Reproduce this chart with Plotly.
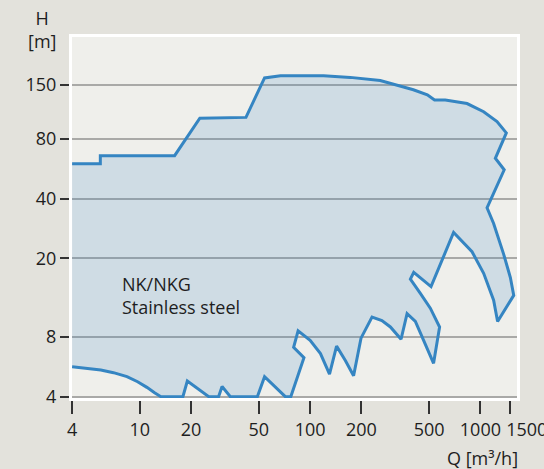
import plotly.graph_objects as go

# Operating range outline (Q in m3/h, H in m), clockwise from top-left
Q = [4, 5.86, 5.86, 16, 22.5, 42, 54, 67, 120, 172, 258, 404, 488, 538, 622, 835,
     1045, 1252, 1420, 1224, 1380, 1094, 1196, 1369, 1500, 1570, 1262, 1196, 1045,
     893, 696, 513, 406, 388, 444, 508, 576, 531, 464, 415, 371, 342, 296, 264, 231,
     199, 180, 161, 143, 130, 115, 100, 85, 80, 92, 77, 71.5, 54, 49, 34, 30.4, 29,
     25.4, 19, 17.9, 13.3, 12.2, 11, 9.7, 8.4, 7.0, 5.9, 4]
H = [60, 60, 66, 66, 102, 103, 163, 167, 167, 164, 158, 142, 134, 126, 126, 121,
     110, 98, 86, 64, 56, 36, 30, 21, 16, 13, 9.6, 12.3, 16.8,
     21.6, 27, 14.4, 17, 15.7, 13.3, 11.2, 9, 5.9, 7.7, 9.6, 10.5, 7.8, 9.0, 9.7, 10.1,
     7.9, 5.1, 6.1, 7.2, 5.2, 6.6, 7.7, 8.6, 7.1, 6.3, 4, 4, 5.05, 4, 4, 4.5, 4,
     4, 4.8, 4, 4, 4.19, 4.46, 4.76, 5.05, 5.29, 5.46, 5.67]

x_ticks = [4, 10, 20, 50, 100, 200, 500, 1000, 1500]
x_ticktext = ["4", "10", "20", "50", "100", "200", "500", "1000",
              "\u00a0" * 7 + "1500"]
y_ticks = [4, 8, 20, 40, 80, 150]
label_text = "NK/NKG<br>Stainless steel"

LINE = "#3585c2"
FONT = "Open Sans"
TXT = "#1e1e1e"

fig = go.Figure()
fig.add_trace(go.Scatter(x=Q, y=H, mode="lines", fill="toself",
                         fillcolor="rgba(53,133,194,0.17)",
                         line=dict(width=0), hoverinfo="skip", showlegend=False))
fig.add_trace(go.Scatter(x=Q, y=H, mode="lines",
                         line=dict(color=LINE, width=3), hoverinfo="skip",
                         showlegend=False))

fig.update_layout(
    width=544, height=469,
    margin=dict(l=72, r=27, t=37, b=71, autoexpand=False),
    paper_bgcolor="#e3e2dc",
    plot_bgcolor="#efefeb",
    font=dict(family=FONT, size=18, color=TXT),
    xaxis=dict(type="log", range=[0.6015, 3.2150], automargin=False,
               tickvals=x_ticks, ticktext=x_ticktext, tickangle=0,
               ticklabeloverflow="allow",
               showgrid=False, zeroline=False,
               showline=True, linecolor="white", linewidth=3, mirror=True,
               ticks="outside", ticklen=13, tickwidth=1.5, tickcolor="#333",
               tickfont=dict(family=FONT, size=18, color=TXT)),
    yaxis=dict(type="log", range=[0.5955, 2.4188], automargin=False,
               tickvals=y_ticks, ticktext=[str(v) for v in y_ticks],
               showgrid=True, gridcolor="#a9a9a7", gridwidth=1.5, zeroline=False,
               showline=True, linecolor="white", linewidth=3, mirror=True,
               ticks="outside", ticklen=9, tickwidth=1.5, tickcolor="#333",
               tickfont=dict(family=FONT, size=18, color=TXT)),
    annotations=[
        dict(text=label_text, xref="paper", yref="paper", x=0.108, y=0.285,
             xanchor="left", yanchor="middle", align="left", showarrow=False,
             font=dict(family=FONT, size=18, color=TXT)),
        dict(text="Q [m³/h]", xref="paper", yref="paper", x=1, y=0,
             xanchor="right", yanchor="top", xshift=3, yshift=-46,
             showarrow=False, font=dict(family=FONT, size=18, color=TXT)),
        dict(text="H<br>[m]", xref="paper", yref="paper", x=0, y=1,
             xanchor="center", yanchor="bottom", xshift=-30, yshift=-18,
             align="center", showarrow=False,
             font=dict(family=FONT, size=18, color=TXT)),
    ],
)

fig.write_html("out.html",
               config={"displayModeBar": False},
               post_script="document.body.style.margin='0';"
                           "document.body.style.overflow='hidden';")
